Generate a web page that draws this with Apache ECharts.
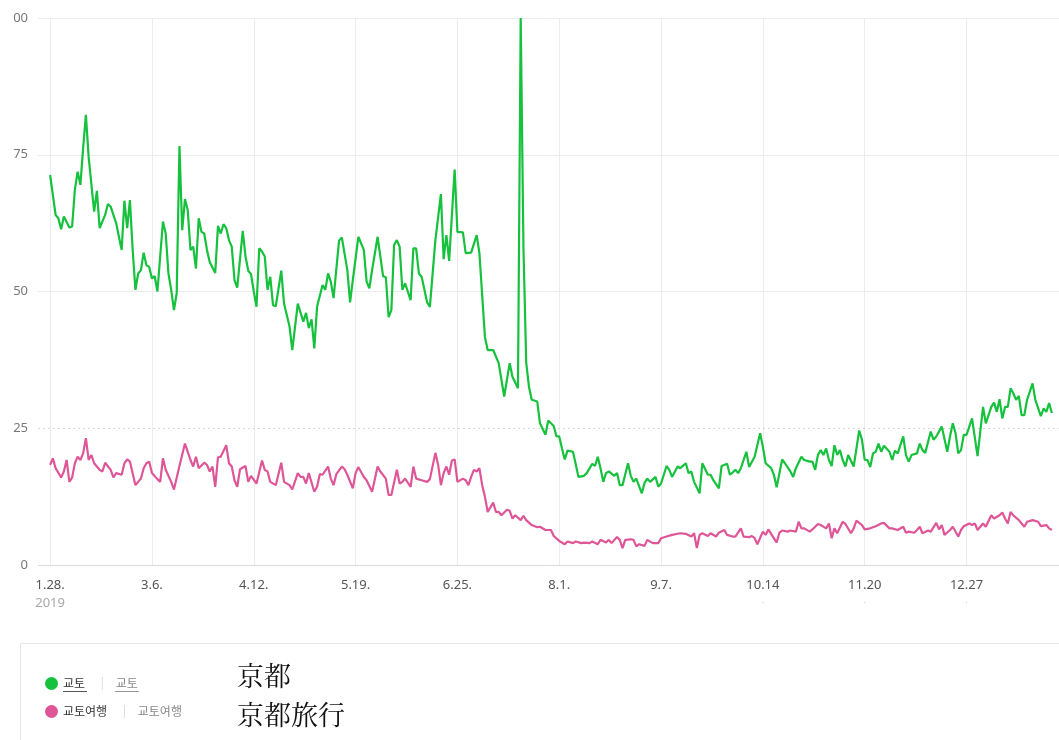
<!DOCTYPE html>
<html>
<head>
<meta charset="utf-8">
<script src="https://cdn.jsdelivr.net/npm/echarts@6/dist/echarts.min.js"></script>
<style>
html,body{margin:0;padding:0;background:#fff;}
#chart{width:1059px;height:740px;}
</style>
</head>
<body>
<div id="chart"></div>
<script>
// ---- data (day offset from 2019-01-28, relative search index) ----
const seriesNames = ['교토', '교토여행'];
const seriesTranslations = ['京都', '京都旅行'];
const tickDays = [0, 37, 74, 111, 148, 185, 222, 259, 296, 333];
const tickLabels = ['1.28.', '3.6.', '4.12.', '5.19.', '6.25.', '8.1.', '9.7.', '10.14', '11.20', '12.27'];
const yearLabel = '2019';

const kyoto = [
[0,71.3],[2,64.0],[3,63.4],[4,61.4],[5,63.7],[7,61.7],[8,61.9],[9,68.6],[10,71.9],[11,69.5],[12,76.2],[13,82.3],[14,74.6],[16,64.6],[17,68.4],[18,61.6],[20,64.0],[21,66.0],[22,65.5],[24,62.5],[25,60.0],[26,57.6],[27,66.6],[28,61.6],[29,66.7],[30,57.6],[31,50.3],[32,53.3],[33,53.9],[34,57.1],[35,54.8],[36,54.5],[37,52.4],[38,52.8],[39,50.0],[41,62.8],[42,60.6],[43,53.3],[44,50.3],[45,46.6],[46,49.7],[47,76.6],[48,61.2],[49,66.9],[50,64.9],[51,57.6],[52,58.2],[53,54.2],[54,63.4],[55,60.9],[56,60.6],[57,57.6],[58,55.4],[60,53.4],[61,62.0],[62,60.6],[63,62.3],[64,61.6],[65,59.4],[66,58.2],[67,52.1],[68,50.7],[70,61.1],[71,56.4],[72,53.8],[73,53.2],[74,50.0],[75,47.2],[76,57.9],[77,57.3],[78,56.4],[79,50.3],[80,52.7],[81,47.5],[82,47.3],[84,53.8],[85,47.8],[87,43.6],[88,39.3],[90,47.8],[92,44.5],[93,46.1],[94,43.3],[95,44.9],[96,39.6],[97,47.2],[99,51.2],[100,50.3],[101,53.3],[102,51.8],[103,48.8],[105,59.3],[106,59.9],[108,53.9],[109,48.0],[110,52.1],[112,60.0],[114,57.6],[115,51.8],[116,50.6],[117,53.9],[119,60.0],[120,56.4],[121,52.8],[122,52.6],[123,45.3],[124,46.6],[125,58.5],[126,59.4],[127,58.2],[128,50.3],[129,51.5],[131,48.4],[132,57.9],[133,57.9],[134,53.3],[135,52.7],[137,48.0],[138,47.2],[140,59.4],[142,67.8],[143,55.9],[144,60.3],[145,55.6],[147,72.3],[148,60.9],[150,60.8],[151,57.0],[153,57.1],[155,60.3],[156,57.0],[158,41.7],[159,39.3],[161,39.3],[163,36.9],[165,30.8],[167,36.9],[168,34.4],[170,32.3],[171,100],[172,58],[173,37],[174,32.6],[175,30.2],[177,29.9],[178,25.9],[180,23.8],[181,26.4],[183,25.4],[184,23.5],[185,23.5],[186,21.3],[187,19.3],[188,20.9],[190,20.7],[192,16.1],[194,16.3],[195,16.8],[197,18.5],[198,18.1],[199,19.8],[200,17.7],[201,15.2],[202,16.8],[203,17.1],[205,16.3],[206,16.8],[207,14.6],[208,14.6],[210,18.6],[211,16.3],[212,15.2],[213,15.8],[215,13.1],[216,15.0],[217,15.8],[218,15.2],[220,16.1],[221,14.3],[222,14.9],[224,18.1],[225,17.4],[226,16.1],[228,18.0],[229,17.7],[231,18.6],[232,16.8],[233,17.1],[234,15.2],[236,13.1],[237,18.6],[239,16.5],[240,16.5],[241,15.5],[243,14.0],[244,18.1],[246,18.5],[247,16.5],[248,16.9],[249,17.4],[250,16.8],[251,17.7],[253,20.7],[254,17.9],[256,19.8],[258,24.1],[259,21.6],[260,18.6],[262,17.7],[263,16.5],[264,14.2],[266,19.3],[267,18.6],[269,17.1],[270,16.1],[271,17.7],[273,19.8],[274,19.2],[276,18.9],[277,18.9],[278,17.4],[279,20.1],[280,21.0],[281,20.1],[282,21.3],[283,19.2],[284,18.1],[285,21.9],[286,20.1],[287,21.0],[288,19.2],[289,18.0],[290,20.1],[292,18.0],[294,24.6],[295,22.9],[296,19.2],[297,19.2],[298,17.9],[299,20.4],[300,20.7],[301,22.2],[302,20.7],[303,21.8],[305,20.7],[306,19.2],[307,20.9],[308,20.4],[310,23.5],[311,20.1],[312,18.9],[313,20.1],[315,20.4],[316,22.2],[317,21.0],[318,20.5],[320,24.4],[321,22.9],[322,23.5],[324,25.3],[326,20.7],[327,23.5],[328,25.9],[329,24.1],[330,20.4],[331,21.0],[332,23.8],[333,23.8],[335,26.8],[337,19.9],[339,28.9],[340,25.9],[342,28.9],[343,29.7],[344,28.0],[345,30.3],[346,26.8],[347,28.9],[348,28.9],[349,32.3],[350,31.4],[351,30.2],[352,30.9],[353,27.4],[354,27.4],[355,30.2],[357,33.2],[358,30.2],[360,27.2],[361,28.6],[362,28.0],[363,29.6],[364,27.8]
];

const kyotoTrip = [
[0,18.3],[1,19.5],[2,17.7],[4,16.0],[5,17.1],[6,19.2],[7,15.2],[8,16.0],[9,18.6],[10,19.8],[11,19.2],[12,20.4],[13,23.2],[14,19.2],[15,20.1],[16,18.6],[18,17.4],[19,17.1],[20,18.7],[22,17.4],[23,16.0],[24,16.8],[26,16.5],[27,18.6],[28,19.3],[29,18.9],[31,14.6],[33,15.8],[34,17.7],[35,18.6],[36,18.9],[37,16.8],[39,15.7],[40,15.2],[41,19.5],[42,17.4],[44,15.2],[45,13.8],[47,18.1],[49,22.2],[51,19.2],[52,18.0],[53,19.8],[54,17.7],[56,18.7],[57,18.3],[58,17.1],[59,18.0],[60,14.3],[61,19.7],[62,19.8],[64,21.9],[65,18.6],[66,18.0],[67,15.5],[68,14.3],[69,17.5],[71,18.1],[72,15.2],[73,16.3],[75,14.9],[77,19.1],[78,17.4],[79,17.1],[80,15.2],[82,14.6],[84,18.7],[85,15.2],[87,14.6],[88,13.8],[90,16.8],[91,16.1],[92,16.1],[93,14.9],[94,16.8],[96,13.4],[97,14.3],[98,16.6],[99,16.5],[101,18.0],[102,15.8],[103,14.6],[104,16.6],[106,18.0],[107,17.5],[108,16.5],[110,14.0],[111,16.8],[112,17.9],[114,16.1],[115,15.5],[117,13.4],[119,18.0],[120,17.1],[122,15.8],[123,12.8],[124,12.8],[126,17.4],[127,14.9],[128,15.2],[129,15.8],[131,14.3],[132,18.0],[133,15.8],[135,15.5],[137,15.2],[138,15.7],[140,20.5],[141,18.3],[142,14.6],[143,16.8],[144,18.0],[145,16.5],[146,19.1],[147,19.3],[148,15.2],[150,15.8],[151,15.5],[152,14.6],[153,16.1],[154,17.4],[155,17.1],[156,17.7],[157,14.6],[158,12.5],[159,9.7],[161,11.4],[162,9.7],[163,9.7],[164,9.1],[166,10.1],[167,9.9],[168,8.5],[169,9.1],[171,8.2],[172,9.0],[173,8.2],[175,7.3],[177,6.9],[178,7.0],[180,6.4],[182,6.4],[183,5.3],[185,4.4],[187,3.8],[188,4.3],[190,4.0],[191,4.3],[193,4.0],[194,4.1],[196,4.0],[197,4.3],[199,3.8],[200,4.6],[202,4.1],[203,4.6],[204,4.0],[206,5.1],[207,4.6],[208,3.1],[209,4.6],[211,4.7],[212,4.6],[213,3.4],[214,3.8],[216,3.5],[217,4.6],[219,4.0],[221,4.0],[222,4.9],[224,5.2],[226,5.5],[229,5.8],[231,5.7],[233,5.2],[234,5.8],[235,3.1],[236,5.5],[237,5.8],[239,5.3],[240,5.8],[242,5.2],[243,5.9],[245,6.4],[246,5.5],[248,5.2],[249,5.2],[251,6.7],[252,5.2],[254,5.1],[255,5.3],[256,4.9],[257,3.8],[259,6.1],[260,5.5],[261,6.5],[262,5.7],[264,4.1],[265,5.9],[266,6.3],[268,6.1],[269,6.3],[271,6.1],[272,7.9],[273,6.7],[274,6.7],[276,6.1],[277,6.5],[279,7.5],[280,7.3],[282,6.7],[283,7.6],[284,4.9],[285,6.7],[286,5.8],[288,7.9],[289,7.5],[291,5.8],[292,6.7],[293,8.1],[295,7.3],[296,6.5],[298,6.7],[300,7.1],[302,7.6],[303,7.7],[305,6.7],[306,6.7],[308,6.4],[310,7.0],[311,5.9],[312,6.1],[314,5.9],[315,6.4],[316,7.0],[317,5.8],[319,6.3],[320,6.1],[322,7.7],[323,6.5],[324,7.3],[325,5.5],[327,6.4],[328,7.0],[330,5.2],[331,6.4],[332,7.1],[334,7.6],[335,7.3],[336,7.6],[337,6.4],[339,7.6],[340,7.0],[342,9.1],[343,8.5],[345,9.1],[346,9.6],[347,8.5],[348,7.6],[349,9.7],[350,9.1],[352,8.2],[354,7.0],[355,7.9],[357,8.2],[359,7.9],[360,7.1],[362,7.3],[363,6.7],[364,6.4]
];

// ---- chart ----
const GREEN = '#16c13d';
const PINK = '#de5698';
const FONT = '"Noto Sans", "Noto Sans CJK KR", sans-serif';
const KFONT = '"Noto Sans CJK KR", sans-serif';
const SERIF = '"Noto Serif CJK JP", "Noto Serif CJK SC", serif, "Noto Sans CJK JP"';

const chart = echarts.init(document.getElementById('chart'), null, {renderer: 'canvas'});

chart.setOption({
  animation: false,
  backgroundColor: '#ffffff',
  textStyle: {fontFamily: FONT},
  grid: {left: 38, right: 0, top: 18, bottom: 175, containLabel: false},
  xAxis: {
    type: 'value',
    min: -4.4,
    max: 366.6,
    axisLine: {show: false},
    axisTick: {show: false, customValues: tickDays},
    splitLine: {show: true, lineStyle: {color: '#ececec', width: 1}},
    axisLabel: {
      customValues: tickDays,
      margin: 11,
      color: '#555',
      fontSize: 13,
      fontFamily: FONT,
      lineHeight: 18,
      formatter: function (v) {
        const i = tickDays.indexOf(v);
        if (i < 0) return '';
        if (i === 0) return tickLabels[i] + '\n{yr|' + yearLabel + '}';
        if (i >= 7) return tickLabels[i] + '\n{dot|·}';
        return tickLabels[i];
      },
      rich: {
        yr: {color: '#a8a8a8', fontSize: 13, fontFamily: FONT, lineHeight: 18},
        dot: {color: '#d0d0d0', fontSize: 9, lineHeight: 18}
      }
    }
  },
  yAxis: {
    type: 'value',
    min: 0,
    max: 100,
    interval: 25,
    axisLine: {show: false},
    axisTick: {show: false},
    axisLabel: {
      margin: 10,
      color: '#777',
      fontSize: 13,
      fontFamily: FONT,
      formatter: function (v) { return v === 100 ? '00' : String(v); }
    },
    splitLine: {
      show: true,
      lineStyle: {color: ['#dcdcdc', 'rgba(0,0,0,0)', '#ececec', '#ececec', '#ececec'], width: 1}
    }
  },
  legend: {
    show: true,
    orient: 'vertical',
    left: 45,
    top: 677,
    padding: 0,
    itemWidth: 13,
    itemHeight: 13,
    itemGap: 15,
    icon: 'circle',
    selectedMode: false,
    data: seriesNames,
    formatter: function (name) {
      return '{a|' + name + '}{sep||}{b|' + name + '}';
    },
    textStyle: {
      fontFamily: FONT,
      fontSize: 12,
      rich: {
        a: {color: '#333', fontSize: 12, fontFamily: KFONT},
        sep: {color: '#dcdcdc', fontSize: 12, padding: [0, 10, 0, 14]},
        b: {color: '#888', fontSize: 12, fontFamily: KFONT}
      }
    }
  },
  graphic: [
    {type: 'rect', left: 20, top: 643, z: -1,
     shape: {width: 1045, height: 110},
     style: {fill: '#fff', stroke: '#e6e6e6', lineWidth: 1}},
    {type: 'line', shape: {x1: 63, y1: 691.5, x2: 87, y2: 691.5}, style: {stroke: '#555', lineWidth: 1}},
    {type: 'line', shape: {x1: 115, y1: 691.5, x2: 139, y2: 691.5}, style: {stroke: '#999', lineWidth: 1}},
    {type: 'text', left: 237, top: 662,
     style: {text: seriesTranslations[0], fill: '#111', fontSize: 27, fontFamily: SERIF}},
    {type: 'text', left: 237, top: 701,
     style: {text: seriesTranslations[1], fill: '#111', fontSize: 27, fontFamily: SERIF}}
  ],
  series: [
    {
      name: seriesNames[0],
      type: 'line',
      data: kyoto,
      showSymbol: false,
      symbol: 'circle',
      itemStyle: {color: GREEN},
      lineStyle: {color: GREEN, width: 2.2},
      z: 3,
      markLine: {
        silent: true,
        symbol: 'none',
        label: {show: false},
        lineStyle: {type: [2, 3], color: '#d8d8d8', width: 1},
        data: [{yAxis: 25}],
        z: 1
      }
    },
    {
      name: seriesNames[1],
      type: 'line',
      data: kyotoTrip,
      showSymbol: false,
      symbol: 'circle',
      itemStyle: {color: PINK},
      lineStyle: {color: PINK, width: 2.2},
      z: 2
    }
  ]
});
</script>
</body>
</html>
